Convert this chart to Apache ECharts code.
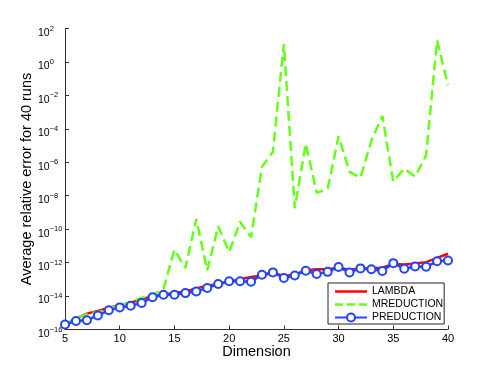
<!DOCTYPE html>
<html>
<head>
<meta charset="utf-8">
<script src="https://cdn.jsdelivr.net/npm/echarts@6/dist/echarts.min.js"></script>
<style>
html, body { margin: 0; padding: 0; background: #fff; }
#chart { width: 494px; height: 371px; }
</style>
</head>
<body>
<div id="chart"></div>
<script>
// matrix dimension on the x axis
var dims = [5, 6, 7, 8, 9, 10, 11, 12, 13, 14, 15, 16, 17, 18, 19, 20, 21, 22,
            23, 24, 25, 26, 27, 28, 29, 30, 31, 32, 33, 34, 35, 36, 37, 38, 39, 40];

// average relative error
var lambdaErr = [1.8e-16, 4.5e-16, 8.9e-16, 1.3e-15, 2.0e-15, 2.8e-15, 4.0e-15, 6.3e-15, 1.0e-14,
                 1.2e-14, 1.6e-14, 1.9e-14, 2.8e-14, 4.2e-14, 5.2e-14, 7.1e-14, 1.0e-13, 1.4e-13,
                 1.7e-13, 2.5e-13, 1.6e-13, 1.9e-13, 3.5e-13, 4.0e-13, 4.0e-13, 5.0e-13, 3.8e-13,
                 4.5e-13, 4.7e-13, 5.0e-13, 8.3e-13, 7.6e-13, 8.9e-13, 1.07e-12, 1.9e-12, 3.4e-12];

var mreductionErr = [2.0e-16, 5.0e-16, 8.3e-16, 1.1e-15, 1.8e-15, 2.8e-15, 4.5e-15, 7.9e-15, 1.1e-14,
                     2.8e-14, 5.9e-12, 4.7e-13, 4.1e-10, 3.5e-13, 1.5e-10, 4.3e-12, 2.8e-10, 3.3e-11,
                     5.4e-7, 4.2e-6, 11.7, 1.8e-9, 1.3e-5, 1.5e-8, 2.5e-8, 3.6e-5, 2.7e-7,
                     1.2e-7, 2.0e-5, 5.9e-4, 7.1e-8, 4.1e-7, 1.4e-7, 2.6e-6, 19.5, 4.1e-2];

var preductionErr = [2.0e-16, 3.2e-16, 3.6e-16, 6.9e-16, 1.4e-15, 2.1e-15, 2.6e-15, 3.9e-15, 8.5e-15,
                     1.2e-14, 1.2e-14, 1.5e-14, 1.9e-14, 3.0e-14, 5.2e-14, 7.6e-14, 7.6e-14, 7.2e-14,
                     1.9e-13, 2.6e-13, 1.2e-13, 1.7e-13, 3.3e-13, 2.1e-13, 2.8e-13, 5.4e-13, 2.6e-13,
                     4.5e-13, 4.0e-13, 3.2e-13, 9.3e-13, 4.3e-13, 5.9e-13, 5.6e-13, 1.2e-12, 1.35e-12];

var seriesNames = ['LAMBDA', 'MREDUCTION', 'PREDUCTION'];

function pairs(xs, ys) {
    var out = [];
    for (var i = 0; i < xs.length; i++) out.push([xs[i], ys[i]]);
    return out;
}

var font = 'Liberation Sans, Arial, Helvetica, sans-serif';
var chart = echarts.init(document.getElementById('chart'));

// plain line / dashed line legend icons (no marker)
var solidIcon = 'path://M0,0H32V2.5H0Z';
var dashIcon = 'path://M0,0H8V2.5H0ZM12,0H20V2.5H12ZM24,0H32V2.5H24Z';

var option = {
    animation: false,
    backgroundColor: '#fff',
    grid: { left: 65, right: 46, top: 28.5, bottom: 41.5, containLabel: false },
    legend: {
        data: [
            { name: seriesNames[0], icon: solidIcon, itemStyle: { borderWidth: 0 } },
            { name: seriesNames[1], icon: dashIcon, itemStyle: { borderWidth: 0 } },
            { name: seriesNames[2] }
        ],
        orient: 'vertical',
        left: 328,
        top: 283,
        padding: [3, 1, 1, 6],
        itemGap: 2,
        itemWidth: 32,
        itemHeight: 10,
        backgroundColor: '#fff',
        borderColor: '#222',
        borderWidth: 1,
        textStyle: { fontFamily: font, fontSize: 10.5, color: '#000' }
    },
    xAxis: {
        type: 'value',
        min: 5,
        max: 40,
        interval: 5,
        name: 'Dimension',
        nameLocation: 'middle',
        nameGap: 15,
        nameMoveOverlap: false,
        nameTextStyle: { fontFamily: font, fontSize: 14.5, color: '#000' },
        axisLine: { lineStyle: { color: '#333', width: 1 } },
        axisTick: { inside: true, length: 4, lineStyle: { color: '#333' } },
        axisLabel: { fontFamily: font, fontSize: 11, color: '#000', margin: 4 },
        splitLine: { show: false }
    },
    yAxis: {
        type: 'log',
        logBase: 10,
        min: 1e-16,
        max: 1e2,
        interval: 2,
        name: 'Average relative error for 40 runs',
        nameLocation: 'middle',
        nameGap: 31,
        nameMoveOverlap: false,
        nameTextStyle: { fontFamily: font, fontSize: 14.5, color: '#000' },
        axisLine: { show: true, lineStyle: { color: '#333', width: 1 } },
        axisTick: { show: true, inside: true, length: 4, lineStyle: { color: '#333' } },
        axisLabel: {
            align: 'left',
            margin: 27,
            formatter: function (v) {
                var e = Math.round(Math.log10(v));
                return '{b|10}{s|' + (e < 0 ? '\u2212' + (-e) : e) + '}';
            },
            rich: {
                b: { fontFamily: font, fontSize: 10.5, color: '#000', padding: [9, 0, 0, 0] },
                s: { fontFamily: font, fontSize: 7.5, color: '#000' }
            }
        },
        splitLine: { show: false },
        minorTick: { show: false }
    },
    series: [
        {
            name: 'LAMBDA',
            type: 'line',
            data: pairs(dims, lambdaErr),
            symbol: 'none',
            itemStyle: { color: '#ff0000' },
            lineStyle: { color: '#ff0000', width: 2.5, type: 'solid' }
        },
        {
            name: 'MREDUCTION',
            type: 'line',
            data: pairs(dims, mreductionErr),
            symbol: 'none',
            itemStyle: { color: '#66ff1a' },
            lineStyle: { color: '#66ff1a', width: 2.5, type: 'dashed' }
        },
        {
            name: 'PREDUCTION',
            type: 'line',
            data: pairs(dims, preductionErr),
            symbol: 'emptyCircle',
            symbolSize: 8,
            itemStyle: { color: '#2244ff', borderWidth: 2 },
            lineStyle: { color: '#2244ff', width: 2.5, type: 'solid' }
        }
    ]
};

chart.setOption(option);
</script>
</body>
</html>
